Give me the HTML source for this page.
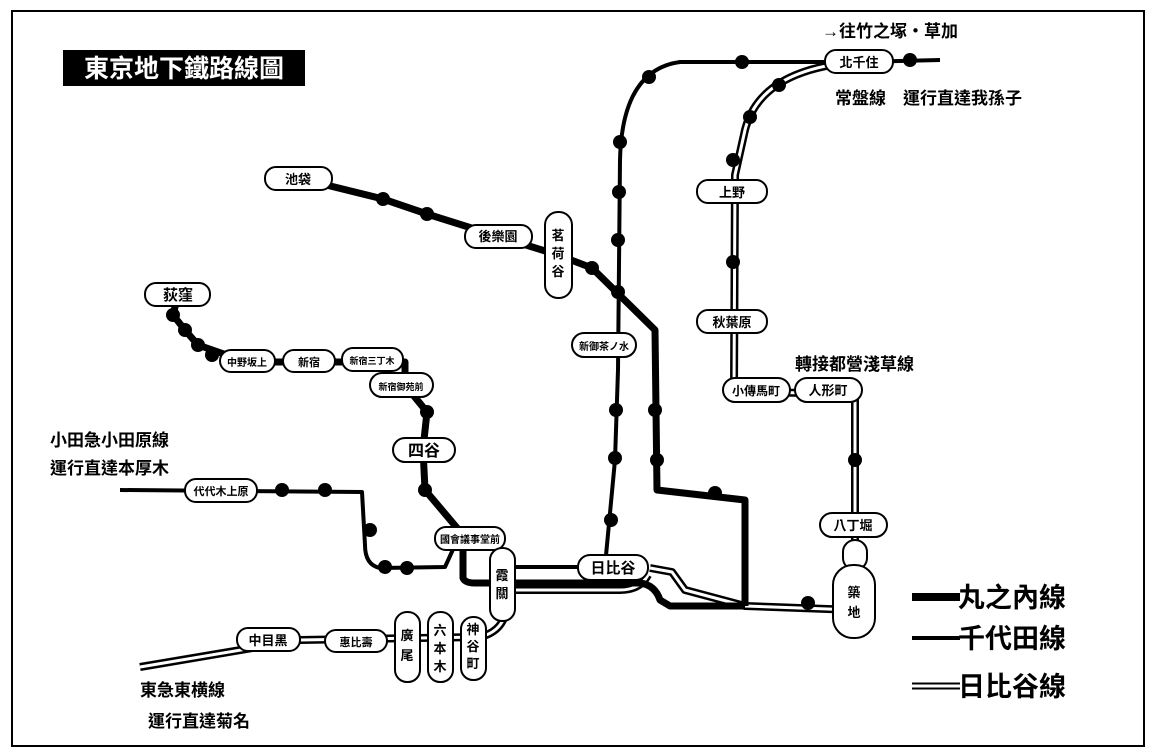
<!DOCTYPE html>
<html><head><meta charset="utf-8"><style>
html,body{margin:0;padding:0;background:#fff;}
svg{display:block;}
text{font-family:"Liberation Sans","Noto Sans CJK TC","Noto Sans CJK SC",sans-serif;fill:#000;}
.st{font-size:13px;font-weight:bold;}
.lb{font-size:17px;font-weight:bold;}
</style></head><body>
<svg width="1153" height="752" viewBox="0 0 1153 752" xmlns="http://www.w3.org/2000/svg">
<rect x="12" y="11" width="1132" height="735" fill="none" stroke="#000" stroke-width="2"/>
<rect x="63" y="50" width="242" height="36" fill="#000"/>
<text x="184" y="77" text-anchor="middle" style="font-size:25px;font-weight:bold;fill:#fff">東京地下鐵路線圖</text>

<g fill="none" stroke-linejoin="round">
<path d="M855,62 Q760,70 745,130 L735,175 L734,390 L755,392 L855,394 L855,610 L745,606 L685,590 L672,572 L650,568 M648,575 Q640,590 620,590 L505,590 L505,615 Q500,632 480,637 L300,640 L140,667" stroke="#000" stroke-width="8"/>
<path d="M855,62 Q760,70 745,130 L735,175 L734,390 L755,392 L855,394 L855,610 L745,606 L685,590 L672,572 L650,568 M648,575 Q640,590 620,590 L505,590 L505,615 Q500,632 480,637 L300,640 L140,667" stroke="#fff" stroke-width="3"/>
</g>
<g fill="none" stroke="#000" stroke-width="4" stroke-linejoin="round">
<path d="M940,60 L855,62 L680,62 Q622,70 620,160 L618,370 L615,460 L605,566"/>
<path d="M505,567 L580,567"/>
<path d="M455,545 L445,567 L380,568 Q365,565 365,545 L362,492 L120,490"/>
</g>
<g fill="none" stroke="#000" stroke-width="7" stroke-linejoin="round">
<path d="M298,178 L383,199 L427,214 L497,236 L558,255 L592,268 L655,330 L657,490 L745,500 L745,606"/>
<path d="M463,540 L463,578 Q465,583 475,583 L640,583 Q655,585 660,600 L670,606 L745,606"/>
<path d="M178,295 L173,315 L185,330 L198,345 L247,362 L405,362 L405,385 L427,412 L423,449 L425,490 L463,535"/>
</g>
<g fill="#000">
<circle cx="383" cy="199" r="7"/><circle cx="427" cy="214" r="7"/><circle cx="592" cy="268" r="7"/>
<circle cx="655" cy="410" r="7"/><circle cx="657" cy="460" r="7"/><circle cx="715" cy="493" r="7"/>
<circle cx="173" cy="315" r="7"/><circle cx="185" cy="330" r="7"/><circle cx="198" cy="345" r="7"/><circle cx="212" cy="355" r="7"/>
<circle cx="427" cy="412" r="7"/><circle cx="425" cy="490" r="7"/>
<circle cx="649" cy="77" r="7"/><circle cx="742" cy="62" r="7"/><circle cx="910" cy="60" r="7"/>
<circle cx="620" cy="142" r="7"/><circle cx="619" cy="192" r="7"/><circle cx="618" cy="240" r="7"/><circle cx="618" cy="292" r="7"/>
<circle cx="616" cy="410" r="7"/><circle cx="615" cy="458" r="7"/><circle cx="611" cy="520" r="7"/>
<circle cx="407" cy="568" r="7"/><circle cx="385" cy="567" r="7"/><circle cx="370" cy="530" r="7"/>
<circle cx="325" cy="490" r="7"/><circle cx="282" cy="490" r="7"/>
<circle cx="779" cy="85" r="7"/><circle cx="750" cy="117" r="7"/><circle cx="733" cy="160" r="7"/>
<circle cx="733" cy="262" r="7"/><circle cx="855" cy="460" r="7"/><circle cx="808" cy="603" r="7"/>
</g>
<g fill="#fff" stroke="#000" stroke-width="2">
<rect x="265" y="167" width="67" height="23" rx="11"/>
<rect x="465" y="225" width="67" height="23" rx="11"/>
<rect x="545" y="212" width="27" height="86" rx="13"/>
<rect x="145" y="283" width="65" height="23" rx="11"/>
<rect x="220" y="350" width="55" height="22" rx="11"/>
<rect x="283" y="350" width="52" height="22" rx="11"/>
<rect x="342" y="348" width="61" height="23" rx="11"/>
<rect x="370" y="373" width="63" height="24" rx="12"/>
<rect x="393" y="438" width="62" height="24" rx="12"/>
<rect x="185" y="479" width="72" height="23" rx="11"/>
<rect x="435" y="527" width="70" height="23" rx="11"/>
<rect x="490" y="548" width="25" height="73" rx="12"/>
<rect x="578" y="555" width="70" height="25" rx="12"/>
<rect x="461" y="617" width="25" height="63" rx="12"/>
<rect x="428" y="612" width="25" height="70" rx="12"/>
<rect x="395" y="612" width="25" height="70" rx="12"/>
<rect x="325" y="630" width="62" height="22" rx="11"/>
<rect x="237" y="628" width="63" height="23" rx="11"/>
<rect x="572" y="333" width="64" height="24" rx="12"/>
<rect x="825" y="50" width="68" height="23" rx="11"/>
<rect x="697" y="180" width="70" height="23" rx="11"/>
<rect x="697" y="310" width="70" height="23" rx="11"/>
<rect x="723" y="378" width="67" height="24" rx="12"/>
<rect x="795" y="378" width="67" height="24" rx="12"/>
<rect x="820" y="513" width="67" height="24" rx="12"/>
<rect x="843" y="540" width="24" height="30" rx="12"/>
<rect x="833" y="565" width="42" height="73" rx="20"/>
</g>
<g class="st" text-anchor="middle">
<text x="298" y="184">池袋</text>
<text x="498" y="241">後樂園</text>
<text x="558" y="240">茗</text><text x="558" y="258">荷</text><text x="558" y="276">谷</text>
<text x="178" y="300" style="font-size:15px">荻窪</text>
<text x="247" y="366" style="font-size:10px">中野坂上</text>
<text x="309" y="366" style="font-size:11px">新宿</text>
<text x="372" y="364" style="font-size:9px">新宿三丁木</text>
<text x="401" y="390" style="font-size:9px">新宿御苑前</text>
<text x="424" y="456" style="font-size:16px">四谷</text>
<text x="221" y="495" style="font-size:11px">代代木上原</text>
<text x="470" y="543" style="font-size:10px">國會議事堂前</text>
<text x="502" y="580">霞</text><text x="502" y="598">關</text>
<text x="613" y="573" style="font-size:15px">日比谷</text>
<text x="473" y="634">神</text><text x="473" y="651">谷</text><text x="473" y="668">町</text>
<text x="440" y="635">六</text><text x="440" y="653">本</text><text x="440" y="671">木</text>
<text x="407" y="640">廣</text><text x="407" y="660">尾</text>
<text x="356" y="646" style="font-size:11px">惠比壽</text>
<text x="268" y="645">中目黑</text>
<text x="604" y="350" style="font-size:10px">新御茶ノ水</text>
<text x="859" y="67">北千住</text>
<text x="732" y="197">上野</text>
<text x="732" y="327">秋葉原</text>
<text x="756" y="395" style="font-size:12px">小傳馬町</text>
<text x="828" y="395">人形町</text>
<text x="853" y="530">八丁堀</text>
<text x="854" y="597">築</text><text x="854" y="617">地</text>
</g>
<g class="lb">
<text x="822" y="37">→往竹之塚・草加</text>
<text x="835" y="104">常盤線　運行直達我孫子</text>
<text x="795" y="370">轉接都營淺草線</text>
<text x="50" y="446">小田急小田原線</text>
<text x="50" y="474">運行直達本厚木</text>
<text x="140" y="696">東急東横線</text>
<text x="148" y="727">運行直達菊名</text>
</g>
<path d="M912,597 L960,597" stroke="#000" stroke-width="8"/>
<path d="M912,638 L960,638" stroke="#000" stroke-width="4"/>
<path d="M912,686 L960,686" stroke="#000" stroke-width="7"/>
<path d="M912,686 L960,686" stroke="#fff" stroke-width="3"/>
<g style="font-size:27px;font-weight:bold">
<text x="958" y="607">丸之內線</text>
<text x="958" y="648">千代田線</text>
<text x="958" y="696">日比谷線</text>
</g>
</svg>
</body></html>
